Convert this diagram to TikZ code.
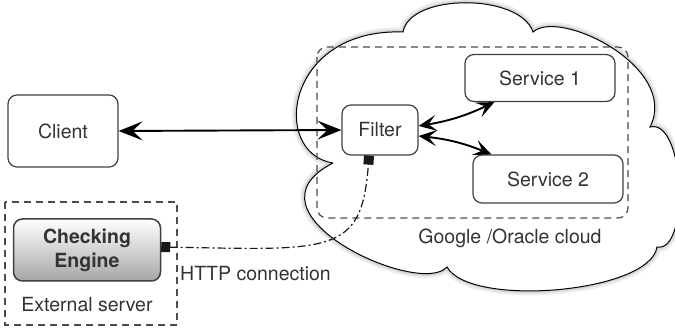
\documentclass[tikz,border=0pt]{standalone}
\usepackage{fontspec}
\setmainfont{TeX Gyre Heros}
\usetikzlibrary{arrows.meta}
\tikzset{
box/.style={draw=black!75,line width=1.2pt,rounded corners=9pt,fill=white,text=black!80},
group/.style={draw=black!70,line width=1.2pt,dash pattern=on 7pt off 5pt},
link/.style={line width=1.9pt,{Stealth[length=24pt,width=19pt,inset=10pt]}-{Stealth[length=24pt,width=19pt,inset=10pt]}},
slink/.style={line width=1.9pt,{Stealth[length=18pt,width=16pt,inset=8pt]}-{Stealth[length=18pt,width=16pt,inset=8pt]}}
}
\begin{document}
\begin{tikzpicture}[x=1pt,y=-1pt,font=\fontsize{19.5}{23}\selectfont]
\useasboundingbox(0,0)rectangle(675,328);
\draw[line width=1pt,fill=white,preaction={draw=black!7,line width=9pt},preaction={draw=black!16,line width=4.5pt}](333,163)..controls(270,153)and(285,28)..(403,32)..controls(410,-7)and(520,-7)..(533,32)..controls(560,8)and(680,68)..(650,127)..controls(685,118)and(690,253)..(657,247)..controls(650,293)and(470,308)..(447,267)..controls(420,298)and(235,213)..(333,163);
\draw[group,rounded corners=10pt](317,47)rectangle(628,218);
\draw[group](5,202)rectangle(177,325);
\node[box,minimum width=110pt,minimum height=72pt](client)at(63,131){Client};
\node[box,minimum width=76pt,minimum height=50pt](filter)at(380,130){Filter};
\node[box,minimum width=150pt,minimum height=47pt](s1)at(540,78){Service 1};
\node[box,minimum width=150pt,minimum height=48pt](s2)at(548,179){Service 2};
\node[box,top color=white,bottom color=black!35,line width=1.5pt,font=\fontsize{19.5}{24}\selectfont\bfseries,align=center,minimum width=147pt,minimum height=62pt](engine)at(87,250){Checking\\Engine};
\node[text=black!80](cloudlbl)at(510,238){Google /Oracle cloud};
\node[text=black!80](extlbl)at(87,305){External server};
\node[text=black!80,anchor=west,inner sep=0pt](httplbl)at(180,274){HTTP connection};
\draw[link](client.east)--(filter.west);
\draw[slink]([yshift=4pt]filter.east)to[bend right=8]([xshift=30pt]s1.south west);
\draw[slink]([yshift=-6pt]filter.east)to[bend left=8]([xshift=19pt]s2.north west);
\draw[black!90,line width=1.2pt,dash pattern=on 8pt off 3pt on 2pt off 3pt,{Square[length=9pt,width=10pt]}-{Square[length=9pt,width=10pt]}]([yshift=3pt]engine.east)..controls +(170,3)and +(-7,100)..([xshift=-11pt]filter.south);
\end{tikzpicture}
\end{document}
